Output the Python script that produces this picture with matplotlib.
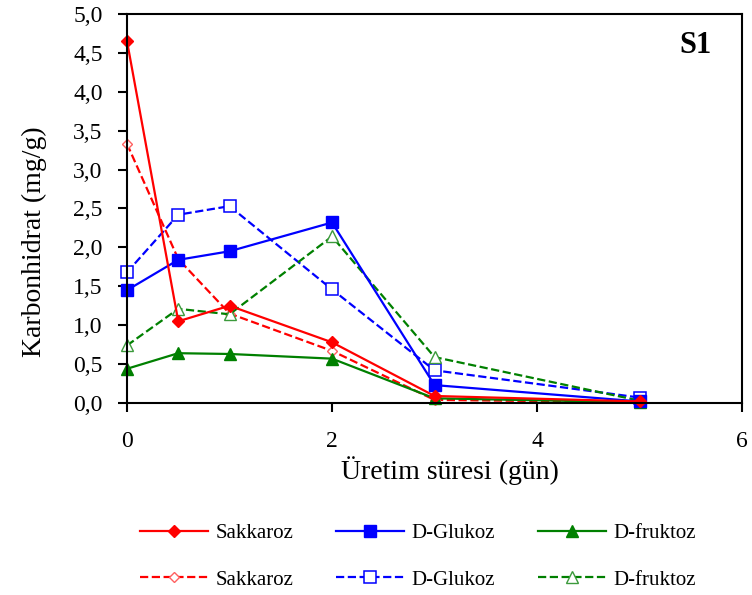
import matplotlib.pyplot as plt
from matplotlib.ticker import FuncFormatter, MultipleLocator

# Üretim süresi (gün)
days = [0, 0.5, 1, 2, 3, 5]

# dolu işaretli seri
sakkaroz_1 = [4.65, 1.05, 1.25, 0.78, 0.09, 0.02]
glukoz_1 = [1.45, 1.84, 1.95, 2.32, 0.23, 0.02]
fruktoz_1 = [0.44, 0.64, 0.63, 0.57, 0.06, 0.01]

# boş işaretli seri
sakkaroz_2 = [3.33, 1.85, 1.15, 0.67, 0.04, 0.01]
glukoz_2 = [1.68, 2.42, 2.53, 1.46, 0.42, 0.07]
fruktoz_2 = [0.74, 1.21, 1.14, 2.14, 0.59, 0.03]

plt.rcParams['font.family'] = ['Liberation Serif', 'DejaVu Serif']

fig = plt.figure(figsize=(7.52, 5.95), dpi=100)
ax = fig.add_axes([0.1689, 0.3227, 0.8178, 0.6538])

red, blue, green = '#FF0000', '#0000FF', '#008000'
lw = 1.6

h_s2, = ax.plot(days, sakkaroz_2, ls='--', color=red, lw=lw, marker='D', ms=5.5,
                mfc='white', mec='#FF6060', mew=1.0, clip_on=False, label='Sakkaroz')
h_g2, = ax.plot(days, glukoz_2, ls='--', color=blue, lw=lw, marker='s', ms=8,
                mfc='white', mec=blue, mew=1.1, clip_on=False, label='D-Glukoz')
h_f2, = ax.plot(days, fruktoz_2, ls='--', color=green, lw=lw, marker='^', ms=8,
                mfc='white', mec='#3C9A3C', mew=1.0, clip_on=False, label='D-fruktoz')

h_f1, = ax.plot(days, fruktoz_1, ls='-', color=green, lw=lw, marker='^', ms=8,
                clip_on=False, label='D-fruktoz')
h_g1, = ax.plot(days, glukoz_1, ls='-', color=blue, lw=lw, marker='s', ms=9,
                clip_on=False, label='D-Glukoz')
h_s1, = ax.plot(days, sakkaroz_1, ls='-', color=red, lw=lw, marker='D', ms=6,
                clip_on=False, label='Sakkaroz')

ax.set_xlim(0, 6)
ax.set_ylim(0, 5)
ax.xaxis.set_major_locator(MultipleLocator(2))
ax.yaxis.set_major_locator(MultipleLocator(0.5))
ax.yaxis.set_major_formatter(FuncFormatter(lambda v, p: f'{v:.1f}'.replace('.', ',')))

ax.tick_params(axis='x', direction='out', length=6.5, width=1.5, pad=14, labelsize=17)
ax.tick_params(axis='y', direction='out', length=6.5, width=1.5, pad=11, labelsize=17)
for s in ax.spines.values():
    s.set_linewidth(1.5)

ax.set_xlabel('Üretim süresi (gün)', fontsize=20, labelpad=3, x=0.525)
ax.set_ylabel('Karbonhidrat (mg/g)', fontsize=20, labelpad=19, y=0.414)

ax.text(0.95, 0.92, 'S1', transform=ax.transAxes, ha='right', va='center',
        fontsize=22, fontweight='bold')

handles = [h_s1, h_s2, h_g1, h_g2, h_f1, h_f2]
fig.legend(handles=handles, labels=[h.get_label() for h in handles],
           ncol=3, loc='center', bbox_to_anchor=(0.556, 0.0647),
           frameon=False, fontsize=15, handlelength=3.27, handletextpad=0.35,
           columnspacing=2.05, labelspacing=1.3)

fig.savefig('out.png', dpi=100)
